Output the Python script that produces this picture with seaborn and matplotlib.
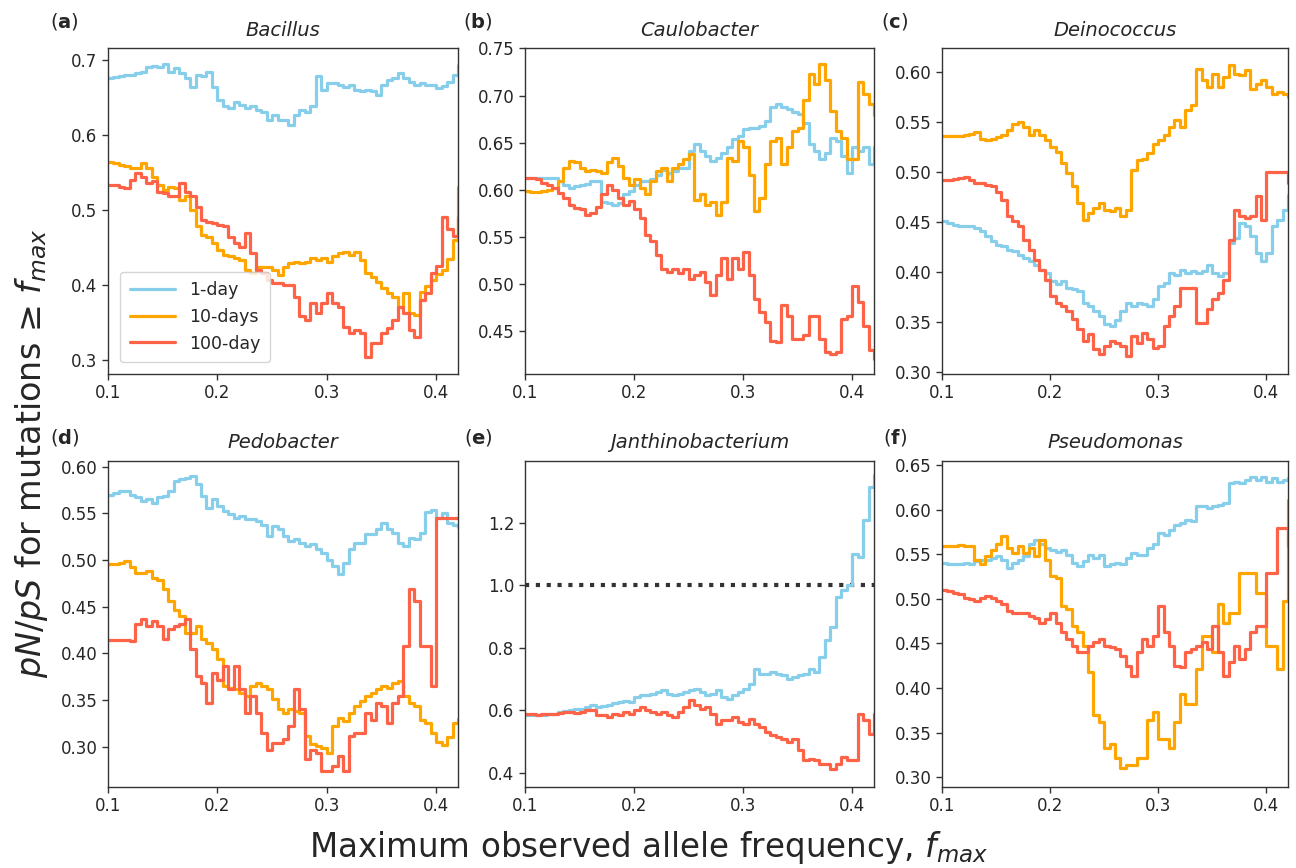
import numpy as np
import pandas as pd
import matplotlib
matplotlib.use("Agg")
import matplotlib.pyplot as plt
import seaborn as sns

# ---------------- data ----------------
FMAX = np.round(0.100 + 0.005 * np.arange(65), 3)   # sampled f_max positions 0.100 .. 0.420

GROUPS = ["1-day", "10-days", "100-day"]
COLORS = {"1-day": "#87CEEB", "10-days": "#FFA500", "100-day": "#FF6347"}

TITLES = ["Bacillus", "Caulobacter", "Deinococcus", "Pedobacter", "Janthinobacterium", "Pseudomonas"]
LETTERS = ["a", "b", "c", "d", "e", "f"]

A_1 = [0.676,0.677,0.678,0.680,0.680,0.682,0.684,0.691,0.692,0.691,
       0.695,0.684,0.689,0.682,0.676,0.664,0.680,0.678,0.684,0.664,
       0.647,0.638,0.636,0.644,0.640,0.636,0.638,0.633,0.631,0.620,
       0.627,0.620,0.620,0.613,0.627,0.633,0.631,0.638,0.678,0.660,
       0.669,0.669,0.667,0.664,0.667,0.660,0.658,0.660,0.658,0.653,
       0.667,0.673,0.676,0.682,0.676,0.671,0.667,0.669,0.667,0.667,
       0.663,0.665,0.670,0.680,0.693]
A_10 = [0.564,0.563,0.560,0.558,0.556,0.556,0.562,0.556,0.544,0.533,
        0.527,0.531,0.529,0.513,0.518,0.500,0.478,0.467,0.464,0.456,
        0.447,0.440,0.438,0.436,0.433,0.420,0.416,0.424,0.424,0.424,
        0.420,0.413,0.424,0.429,0.431,0.429,0.431,0.436,0.433,0.436,
        0.431,0.438,0.442,0.444,0.440,0.444,0.433,0.416,0.411,0.404,
        0.396,0.389,0.384,0.371,0.389,0.362,0.360,0.390,0.398,0.407,
        0.415,0.420,0.435,0.460,0.530]
A_100 = [0.533,0.533,0.531,0.529,0.540,0.549,0.544,0.536,0.538,0.524,
         0.522,0.518,0.518,0.536,0.524,0.518,0.504,0.487,0.484,0.482,
         0.480,0.478,0.464,0.456,0.451,0.469,0.442,0.420,0.416,0.407,
         0.402,0.402,0.400,0.400,0.384,0.358,0.353,0.376,0.362,0.376,
         0.389,0.376,0.371,0.344,0.336,0.340,0.336,0.304,0.322,0.322,
         0.336,0.342,0.353,0.371,0.362,0.340,0.331,0.380,0.389,0.416,
         0.425,0.490,0.475,0.465,0.490]

B_1 = [0.6125,0.612,0.612,0.6125,0.6125,0.612,0.609,0.605,0.602,0.604,
       0.605,0.606,0.609,0.609,0.587,0.586,0.584,0.586,0.595,0.598,
       0.605,0.609,0.609,0.611,0.616,0.621,0.618,0.620,0.623,0.623,
       0.641,0.648,0.641,0.636,0.630,0.634,0.639,0.645,0.654,0.657,
       0.664,0.666,0.665,0.668,0.673,0.6875,0.691,0.6875,0.686,0.682,
       0.680,0.671,0.648,0.641,0.632,0.639,0.655,0.652,0.636,0.618,
       0.645,0.641,0.645,0.627,0.645]
B_10 = [0.598,0.5975,0.5975,0.598,0.600,0.602,0.609,0.623,0.630,0.629,
        0.623,0.620,0.621,0.620,0.618,0.629,0.634,0.625,0.6125,0.605,
        0.611,0.602,0.595,0.609,0.620,0.623,0.609,0.623,0.627,0.632,
        0.6375,0.589,0.595,0.584,0.587,0.573,0.587,0.634,0.630,0.652,
        0.645,0.616,0.577,0.591,0.627,0.652,0.655,0.627,0.645,0.6625,
        0.666,0.695,0.723,0.7125,0.734,0.716,0.684,0.6625,0.655,0.632,
        0.632,0.714,0.702,0.691,0.679]
B_100 = [0.6125,0.612,0.611,0.607,0.605,0.602,0.596,0.591,0.584,0.580,
         0.579,0.573,0.575,0.582,0.595,0.605,0.600,0.591,0.584,0.5875,
         0.579,0.570,0.552,0.545,0.530,0.516,0.5125,0.516,0.511,0.516,
         0.505,0.509,0.5125,0.502,0.4875,0.509,0.527,0.505,0.527,0.516,
         0.534,0.509,0.484,0.470,0.459,0.439,0.4375,0.477,0.466,0.441,
         0.441,0.445,0.466,0.466,0.441,0.427,0.425,0.427,0.4625,0.466,
         0.498,0.480,0.455,0.430,0.420]

C_1 = [0.4505,0.449,0.447,0.4455,0.4455,0.4455,0.444,0.4405,0.4355,0.4305,
       0.427,0.4255,0.422,0.4205,0.417,0.414,0.4105,0.407,0.402,0.399,
       0.391,0.3875,0.391,0.384,0.3825,0.381,0.369,0.366,0.361,0.356,
       0.3475,0.346,0.352,0.361,0.369,0.366,0.369,0.3675,0.366,0.3725,
       0.386,0.389,0.399,0.397,0.402,0.399,0.4005,0.399,0.4005,0.407,
       0.399,0.3955,0.399,0.429,0.434,0.449,0.4455,0.4355,0.419,0.4105,
       0.419,0.4455,0.452,0.462,0.477]
C_10 = [0.536,0.536,0.536,0.536,0.537,0.538,0.540,0.5335,0.532,0.5335,
        0.535,0.537,0.542,0.5485,0.550,0.545,0.537,0.542,0.537,0.532,
        0.525,0.520,0.509,0.499,0.4855,0.469,0.452,0.459,0.464,0.469,
        0.462,0.4605,0.464,0.4555,0.462,0.502,0.512,0.5135,0.519,0.5285,
        0.532,0.537,0.545,0.552,0.545,0.562,0.567,0.603,0.592,0.585,
        0.598,0.585,0.595,0.607,0.598,0.597,0.602,0.583,0.588,0.592,
        0.585,0.578,0.580,0.578,0.575]
C_100 = [0.492,0.492,0.4925,0.4935,0.495,0.492,0.489,0.489,0.487,0.4855,
         0.480,0.472,0.4555,0.4505,0.4455,0.432,0.422,0.412,0.402,0.392,
         0.376,0.369,0.366,0.361,0.3525,0.3425,0.331,0.3375,0.3225,0.3175,
         0.326,0.331,0.329,0.326,0.316,0.336,0.329,0.339,0.3325,0.324,
         0.326,0.346,0.356,0.366,0.384,0.384,0.384,0.349,0.349,0.3625,
         0.3725,0.379,0.392,0.432,0.462,0.4555,0.454,0.4555,0.4755,0.452,
         0.500,0.500,0.500,0.500,0.489]

D_1 = [0.570,0.572,0.574,0.574,0.570,0.567,0.563,0.565,0.5615,0.567,
       0.5685,0.574,0.585,0.5865,0.588,0.590,0.581,0.5685,0.556,0.565,
       0.558,0.5525,0.549,0.5455,0.547,0.5435,0.5435,0.542,0.538,0.526,
       0.5365,0.533,0.526,0.520,0.522,0.5185,0.515,0.517,0.5115,0.508,
       0.5005,0.4935,0.4845,0.497,0.5115,0.5185,0.5185,0.5275,0.5275,0.533,
       0.540,0.533,0.529,0.5185,0.515,0.524,0.522,0.529,0.551,0.554,
       0.545,0.550,0.540,0.538,0.535]
D_10 = [0.4955,0.4955,0.497,0.499,0.492,0.4865,0.4865,0.488,0.481,0.479,
        0.4685,0.456,0.447,0.440,0.422,0.422,0.429,0.415,0.4115,0.4045,
        0.3935,0.365,0.3635,0.3615,0.358,0.354,0.365,0.3685,0.365,0.3615,
        0.351,0.340,0.3365,0.340,0.338,0.3365,0.3115,0.3025,0.3005,0.299,
        0.2935,0.322,0.331,0.3275,0.3365,0.3435,0.349,0.354,0.358,0.3615,
        0.365,0.3635,0.3685,0.370,0.354,0.347,0.3435,0.329,0.326,0.315,
        0.305,0.302,0.310,0.325,0.330]
D_100 = [0.414,0.414,0.414,0.414,0.413,0.431,0.4365,0.429,0.4345,0.429,
         0.415,0.426,0.429,0.431,0.4365,0.4045,0.376,0.3685,0.347,0.379,
         0.372,0.3865,0.3615,0.3865,0.3615,0.3365,0.354,0.3365,0.315,0.297,
         0.304,0.304,0.308,0.322,0.3615,0.340,0.2865,0.297,0.2935,0.274,
         0.274,0.279,0.290,0.274,0.3115,0.315,0.315,0.3365,0.329,0.347,
         0.3435,0.326,0.347,0.354,0.408,0.4685,0.456,0.408,0.408,0.365,
         0.545,0.545,0.545,0.545,0.545]

E_1 = [0.5845,0.5845,0.5845,0.5845,0.587,0.590,0.595,0.598,0.600,0.603,
       0.606,0.611,0.617,0.611,0.613,0.617,0.624,0.627,0.629,0.627,
       0.643,0.649,0.649,0.654,0.659,0.665,0.654,0.649,0.654,0.659,
       0.665,0.667,0.659,0.649,0.654,0.665,0.643,0.638,0.649,0.659,
       0.670,0.686,0.734,0.718,0.718,0.723,0.718,0.713,0.702,0.707,
       0.713,0.718,0.734,0.723,0.771,0.8245,0.867,0.963,0.9845,1.0005,
       1.102,1.091,1.208,1.315,1.3525]
E_100 = [0.590,0.588,0.585,0.587,0.590,0.590,0.592,0.595,0.595,0.593,
         0.595,0.600,0.600,0.5845,0.5845,0.579,0.590,0.5845,0.595,0.590,
         0.600,0.611,0.600,0.595,0.590,0.595,0.5845,0.579,0.595,0.611,
         0.632,0.617,0.606,0.611,0.590,0.558,0.569,0.569,0.579,0.563,
         0.558,0.574,0.558,0.547,0.531,0.521,0.515,0.510,0.499,0.510,
         0.4725,0.4405,0.446,0.4405,0.430,0.430,0.414,0.430,0.451,0.4405,
         0.4405,0.590,0.569,0.526,0.590]

F_1 = [0.5396,0.5385,0.5385,0.5385,0.540,0.5385,0.542,0.544,0.544,0.546,
       0.548,0.544,0.535,0.540,0.544,0.548,0.561,0.566,0.561,0.557,
       0.555,0.553,0.555,0.5496,0.540,0.5366,0.542,0.5496,0.546,0.5496,
       0.5366,0.5385,0.540,0.5385,0.546,0.5515,0.5496,0.5496,0.557,0.561,
       0.5738,0.572,0.5775,0.583,0.585,0.5887,0.587,0.6035,0.6035,0.6017,
       0.6035,0.6054,0.607,0.6296,0.6314,0.6296,0.6333,0.637,0.6333,0.637,
       0.6314,0.635,0.6314,0.6333,0.635]
F_10 = [0.5597,0.5597,0.5597,0.5607,0.5597,0.559,0.544,0.5385,0.548,0.555,
        0.561,0.570,0.557,0.5515,0.559,0.5515,0.557,0.548,0.566,0.544,
        0.5255,0.5236,0.492,0.4883,0.4697,0.4623,0.4474,0.4177,0.3693,0.3619,
        0.3322,0.3377,0.321,0.3099,0.3136,0.3136,0.321,0.321,0.3638,0.373,
        0.3433,0.3433,0.3322,0.3619,0.3935,0.3824,0.3824,0.4214,0.4585,0.4585,
        0.440,0.4939,0.4734,0.4846,0.4846,0.5292,0.5292,0.5292,0.5069,0.5069,
        0.4474,0.4474,0.4214,0.4976,0.611]
F_100 = [0.5098,0.5087,0.5069,0.505,0.5013,0.4994,0.4976,0.5013,0.5032,0.5013,
         0.4976,0.4939,0.4864,0.4846,0.4846,0.4846,0.4809,0.479,0.4734,0.4771,
         0.4846,0.4734,0.4623,0.4548,0.4474,0.440,0.440,0.4474,0.4511,0.4548,
         0.4474,0.4455,0.4437,0.4362,0.4251,0.4139,0.440,0.4548,0.4474,0.4586,
         0.492,0.4623,0.4474,0.4251,0.4232,0.440,0.4437,0.4474,0.4511,0.4437,
         0.4697,0.440,0.4139,0.4288,0.4474,0.4325,0.4437,0.4623,0.4697,0.4697,
         0.5292,0.5292,0.5794,0.5794,0.559]

PANELS = [
    {"1-day": A_1, "10-days": A_10, "100-day": A_100},
    {"1-day": B_1, "10-days": B_10, "100-day": B_100},
    {"1-day": C_1, "10-days": C_10, "100-day": C_100},
    {"1-day": D_1, "10-days": D_10, "100-day": D_100},
    {"1-day": E_1, "100-day": E_100},
    {"1-day": F_1, "10-days": F_10, "100-day": F_100},
]

YTICKS = [
    [0.3, 0.4, 0.5, 0.6, 0.7],
    [0.45, 0.50, 0.55, 0.60, 0.65, 0.70, 0.75],
    [0.30, 0.35, 0.40, 0.45, 0.50, 0.55, 0.60],
    [0.30, 0.35, 0.40, 0.45, 0.50, 0.55, 0.60],
    [0.4, 0.6, 0.8, 1.0, 1.2],
    [0.30, 0.35, 0.40, 0.45, 0.50, 0.55, 0.60, 0.65],
]
YFMT = ["{:.1f}", "{:.2f}", "{:.2f}", "{:.2f}", "{:.1f}", "{:.2f}"]
YLIMS = [(0.281, 0.716), (0.404, 0.7505), (0.298, 0.624),
         (0.257, 0.606), (0.355, 1.398), (0.289, 0.6545)]
XTICKS = [0.1, 0.2, 0.3, 0.4]

# ---------------- figure ----------------
sns.set_style("ticks")
plt.rcParams["font.family"] = ["DejaVu Sans"]
plt.rcParams["mathtext.fontset"] = "dejavusans"

W, H = 1296, 868
fig = plt.figure(figsize=(W / 100, H / 100), dpi=100)

lefts = [108, 525, 942]
widths = [350, 349, 346]
tops = [48, 461]
height = 326

for i in range(6):
    r, c = divmod(i, 3)
    ax = fig.add_axes([lefts[c] / W, 1 - (tops[r] + height) / H, widths[c] / W, height / H])
    rows = []
    for g in GROUPS:
        if g in PANELS[i]:
            for x, y in zip(FMAX, PANELS[i][g]):
                rows.append({"fmax": x, "ratio": y, "group": g})
    df = pd.DataFrame(rows)
    hue_order = [g for g in GROUPS if g in PANELS[i]]
    sns.lineplot(data=df, x="fmax", y="ratio", hue="group", hue_order=hue_order,
                 palette=COLORS, estimator=None, sort=False, drawstyle="steps-post",
                 linewidth=2.3, legend=(i == 0), ax=ax)
    if i == 4:
        ax.axhline(1.0, color="#333333", linestyle=(0, (1, 1.6)), linewidth=3, zorder=1)
    ax.set_xlim(0.1, 0.42)
    ax.set_ylim(*YLIMS[i])
    ax.set_xticks(XTICKS)
    ax.set_xticklabels([f"{t:.1f}" for t in XTICKS])
    ax.set_yticks(YTICKS[i])
    ax.set_yticklabels([YFMT[i].format(t) for t in YTICKS[i]])
    ax.tick_params(labelsize=12, length=4, width=1.0, color="#333333")
    for s in ax.spines.values():
        s.set_color("#333333")
        s.set_linewidth(1.0)
    ax.set_xlabel("")
    ax.set_ylabel("")
    ax.set_title(TITLES[i], fontsize=14, style="italic", pad=9)
    lx = [0.050, 0.369, 0.6906][c]
    ly = [0.9747, 0.4965][r]
    fig.text(lx, ly, r"($\mathbf{" + LETTERS[i] + r"}$)", fontsize=14,
             ha="center", va="center")
    if i == 0:
        sns.move_legend(ax, "lower left", title=None, fontsize=12.5, handlelength=2.6,
                        frameon=True, borderpad=0.55, labelspacing=0.5,
                        bbox_to_anchor=(0.01, 0.01))

fig.text(0.024, 0.478, r"$pN/pS$ for mutations ≥ $f_{max}$", rotation=90,
         fontsize=24, ha="center", va="center")
fig.text(0.5, 0.024, r"Maximum observed allele frequency, $f_{max}$",
         fontsize=23.5, ha="center", va="center")

fig.savefig("out.png", dpi=100)
